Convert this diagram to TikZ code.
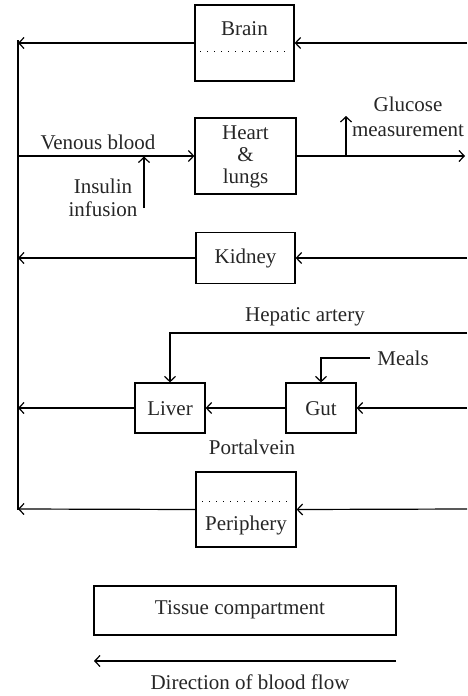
\documentclass[tikz,border=0pt]{standalone}
\usepackage{fontspec}
\setmainfont{Liberation Serif}
\usetikzlibrary{arrows.meta}
\begin{document}
\begin{tikzpicture}[x=0.5pt,y=-0.5pt,
  every node/.style={font=\fontsize{10.5}{12}\selectfont, text=black!85},
  organ/.style={draw, line width=0.6pt, inner sep=0pt},
  flow/.style={line width=0.6pt, -{Straight Barb[length=2.6pt,width=5.5pt]}},
  wire/.style={line width=0.6pt},
  dots/.style={line width=0.5pt, dash pattern=on 0.5pt off 3pt},
  lbl/.style={inner sep=0pt, align=center}]
\useasboundingbox (0,0) rectangle (467,696);
% boxes
\node[organ, minimum width=49.5pt, minimum height=38pt] (brain) at (244.5,43) {};
\node[lbl] (brainT) at (244.5,29) {Brain};
\draw[dots] (200,51) -- (291,51);
\node[organ, minimum width=50.5pt, minimum height=38pt] (heart) at (245.5,156) {};
\node[lbl, font=\fontsize{10.5}{11}\selectfont] (heartT) at (245.5,157) {Heart\\\&\\lungs};
\node[organ, minimum width=49.5pt, minimum height=25.5pt] (kidney) at (245.5,258) {};
\node[lbl] (kidneyT) at (245.5,258) {Kidney};
\node[organ, minimum width=35pt, minimum height=25pt] (liver) at (170,408) {};
\node[lbl] (liverT) at (170,409) {Liver};
\node[organ, minimum width=35pt, minimum height=25pt] (gut) at (321,408) {};
\node[lbl] (gutT) at (321,409) {Gut};
\node[organ, minimum width=50pt, minimum height=37.5pt] (periph) at (246,509.5) {};
\node[lbl] (periphT) at (246,525) {Periphery};
\draw[dots] (202,501) -- (292,501);
\node[organ, minimum width=151pt, minimum height=24.5pt] (tissue) at (245,610.5) {};
\node[lbl] (tissueT) at (240,610) {Tissue compartment};
% coordinates
\coordinate (vtop) at (18,40);
\coordinate (vbot) at (18,510);
\coordinate (bL) at (18,43);
\coordinate (bR) at (467,43);
\coordinate (hL) at (18,156);
\coordinate (hR) at (465,156);
\coordinate (gB) at (346,156);
\coordinate (gT) at (346,116);
\coordinate (iB) at (144,208);
\coordinate (iT) at (144,156.5);
\coordinate (kL) at (18,258);
\coordinate (kR) at (467,258);
\coordinate (haR) at (467,333);
\coordinate (haL) at (170,333);
\coordinate (mR) at (370,358);
\coordinate (mL) at (321,358);
\coordinate (lL) at (18,408);
\coordinate (gR) at (467,408);
\coordinate (pL) at (18,509);
\coordinate (pR) at (467,509);
\coordinate (dR) at (396,661);
\coordinate (dL) at (94,661);
% main vein
\draw[wire] (vtop) -- (vbot);
% connectors
\draw[flow] (brain.west) -- (bL);
\draw[flow] (bR) -- (brain.east);
\draw[flow] (hL) -- (heart.west);
\draw[flow] (heart.east) -- (hR);
\draw[flow] (gB) -- (gT);
\draw[flow] (iB) -- (iT);
\draw[flow] (kidney.west) -- (kL);
\draw[flow] (kR) -- (kidney.east);
\draw[flow] (haR) -- (haL) -- (liver.north);
\draw[flow] (mR) -- (mL) -- (gut.north);
\draw[flow] (liver.west) -- (lL);
\draw[flow] (gut.west) -- (liver.east);
\draw[flow] (gR) -- (gut.east);
\draw[flow] (periph.west) -- (pL);
\draw[flow] (pR) -- (periph.east);
\draw[flow] (dR) -- (dL);
% labels
\node[lbl] (venous) at (98,142) {Venous blood};
\node[lbl, font=\fontsize{10.5}{11.5}\selectfont] (insulin) at (103,198) {Insulin\\infusion};
\node[lbl, font=\fontsize{10.5}{12.5}\selectfont] (glucose) at (408,117) {Glucose\\measurement};
\node[lbl] (hepatic) at (305,317) {Hepatic artery};
\node[lbl, anchor=west] (meals) at (377,358) {Meals};
\node[lbl] (portal) at (252,447) {Portalvein};
\node[lbl] (dir) at (250,682) {Direction of blood flow};
\end{tikzpicture}
\end{document}
